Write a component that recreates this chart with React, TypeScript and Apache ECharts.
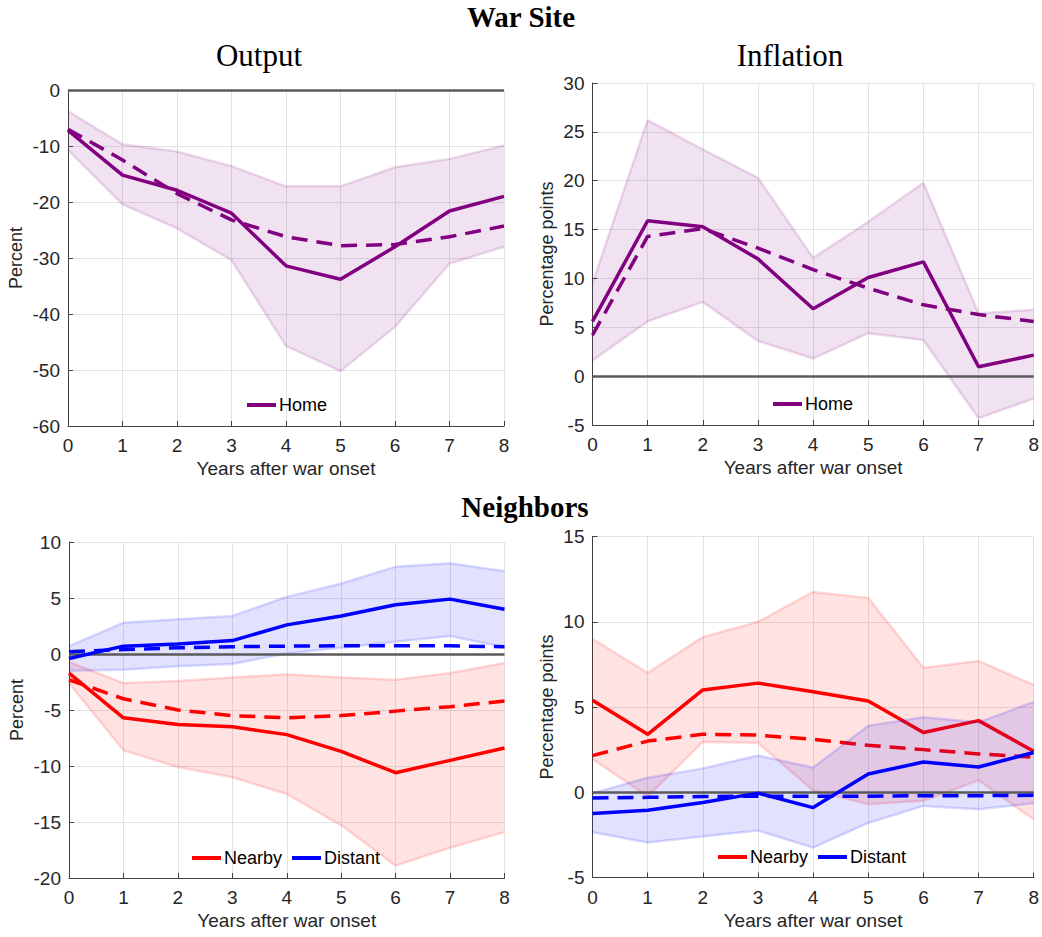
import React, { useEffect, useRef } from "react";
import * as echarts from "echarts";

// x categories
const years = ["0", "1", "2", "3", "4", "5", "6", "7", "8"];

// War site – Output (percent)
const outHomeSolid = [-7.2, -15.2, -17.9, -22.0, -31.4, -33.8, -28.0, -21.6, -19.0];
const outHomeDashed = [-7.0, -12.5, -18.5, -23.2, -26.2, -27.8, -27.6, -26.2, -24.3];
const outHomeUpper = [-3.8, -9.7, -11.0, -13.6, -17.2, -17.2, -13.8, -12.3, -9.9];
const outHomeLower = [-10.7, -20.4, -24.7, -30.4, -45.7, -50.2, -42.3, -31.0, -28.0];

// War site – Inflation (pp)
const infHomeSolid = [5.6, 15.9, 15.3, 12.0, 6.9, 10.1, 11.7, 0.96, 2.15];
const infHomeDashed = [4.2, 14.3, 15.1, 13.1, 10.9, 9.0, 7.3, 6.3, 5.6];
const infHomeUpper = [9.5, 26.2, 23.2, 20.3, 12.1, 15.8, 19.8, 6.4, 6.8];
const infHomeLower = [1.6, 5.6, 7.6, 3.6, 1.8, 4.4, 3.7, -4.3, -2.3];

// Neighbors – Output
const outNearSolid = [-1.7, -5.7, -6.3, -6.5, -7.2, -8.7, -10.6, -9.5, -8.4];
const outNearDashed = [-2.3, -4.0, -5.0, -5.5, -5.7, -5.5, -5.1, -4.7, -4.2];
const outNearUpper = [-0.7, -2.6, -2.4, -2.1, -1.8, -2.1, -2.3, -1.7, -0.8];
const outNearLower = [-2.6, -8.6, -10.1, -11.0, -12.5, -15.3, -18.9, -17.3, -15.9];
const outDistSolid = [-0.4, 0.7, 0.9, 1.2, 2.6, 3.4, 4.4, 4.9, 4.0];
const outDistDashed = [0.2, 0.4, 0.55, 0.65, 0.7, 0.73, 0.73, 0.73, 0.65];
const outDistUpper = [0.7, 2.8, 3.1, 3.4, 5.1, 6.3, 7.8, 8.1, 7.4];
const outDistLower = [-1.5, -1.4, -1.1, -0.9, 0.05, 0.55, 1.1, 1.6, 0.6];

// Neighbors – Inflation
const infNearSolid = [5.4, 3.4, 6.0, 6.4, 5.9, 5.35, 3.5, 4.2, 2.4];
const infNearDashed = [2.15, 3.0, 3.4, 3.35, 3.1, 2.75, 2.5, 2.25, 2.05];
const infNearUpper = [9.0, 7.0, 9.1, 10.0, 11.75, 11.4, 7.3, 7.7, 6.3];
const infNearLower = [1.95, -0.25, 2.95, 2.9, 0.1, -0.7, -0.5, 0.7, -1.6];
const infDistSolid = [-1.25, -1.05, -0.6, -0.05, -0.9, 1.07, 1.77, 1.48, 2.33];
const infDistDashed = [-0.33, -0.3, -0.25, -0.23, -0.23, -0.23, -0.2, -0.2, -0.18];
const infDistUpper = [-0.05, 0.85, 1.4, 2.15, 1.45, 3.9, 4.4, 4.1, 5.3];
const infDistLower = [-2.35, -2.95, -2.6, -2.25, -3.25, -1.8, -0.8, -1.0, -0.65];

// axis ranges
const yRanges = [
  { min: -60, max: 0, interval: 10 },
  { min: -5, max: 30, interval: 5 },
  { min: -20, max: 10, interval: 5 },
  { min: -5, max: 15, interval: 5 },
];
const yNames = ["Percent", "Percentage points", "Percent", "Percentage points"];

const PURPLE = "#800080";
const RED = "#FF0000";
const BLUE = "#0000FF";
const SANS = "Liberation Sans, Arial, Helvetica, sans-serif";
const SERIF = "Liberation Serif, Times New Roman, serif";

function rgba(hex: string, a: number) {
  const r = parseInt(hex.slice(1, 3), 16);
  const g = parseInt(hex.slice(3, 5), 16);
  const b = parseInt(hex.slice(5, 7), 16);
  return `rgba(${r},${g},${b},${a})`;
}

function band(gi: number, key: string, lower: number[], upper: number[], color: string, z: number) {
  const edge = { color: rgba(color, 0.14), width: 2.5 };
  return [
    {
      type: "line",
      xAxisIndex: gi,
      yAxisIndex: gi,
      data: lower,
      stack: key,
      stackStrategy: "all",
      symbol: "none",
      lineStyle: edge,
      z,
      silent: true,
    },
    {
      type: "line",
      xAxisIndex: gi,
      yAxisIndex: gi,
      data: upper.map((u, i) => u - lower[i]),
      stack: key,
      stackStrategy: "all",
      symbol: "none",
      lineStyle: edge,
      areaStyle: { color: rgba(color, 0.115), opacity: 1 },
      z,
      silent: true,
    },
  ];
}

function line(gi: number, name: string, data: number[], color: string, dashed: boolean, z: number) {
  return {
    type: "line",
    name,
    xAxisIndex: gi,
    yAxisIndex: gi,
    data,
    symbol: "none",
    lineStyle: { color, width: 3.5, type: dashed ? [16, 9] : "solid", cap: "butt" },
    itemStyle: { color },
    z,
    silent: true,
  };
}

function zero(gi: number, z: number) {
  return {
    type: "line",
    xAxisIndex: gi,
    yAxisIndex: gi,
    data: [],
    z,
    silent: true,
    markLine: {
      silent: true,
      symbol: "none",
      label: { show: false },
      lineStyle: { color: "#5a5a5a", width: 2.5, type: "solid" },
      data: [{ yAxis: 0 }],
      z,
    },
  };
}

const grids = [
  { left: 68, top: 90, width: 436, height: 336 },
  { left: 592.5, top: 83, width: 443, height: 342 },
  { left: 69, top: 542, width: 435.5, height: 336 },
  { left: 592.5, top: 536.5, width: 442.5, height: 341 },
];

export default function App() {
  const ref = useRef<HTMLDivElement>(null);
  useEffect(() => {
    document.body.style.margin = "0";
    if (!ref.current) return;
    const chart = echarts.init(ref.current, undefined, { renderer: "svg" });

    const xAxes = grids.map((_, i) => ({
      type: "category",
      gridIndex: i,
      data: years,
      boundaryGap: false,
      name: "Years after war onset",
      nameLocation: "middle",
      nameGap: 33,
      nameTextStyle: { fontSize: 19, color: "#262626", fontFamily: SANS },
      axisLine: { show: true, onZero: false, lineStyle: { color: "#404040", width: 1 } },
      axisTick: { show: true, inside: true, length: 5, alignWithLabel: true, lineStyle: { color: "#404040" } },
      axisLabel: { fontSize: 19, color: "#262626", fontFamily: SANS, margin: 10 },
      splitLine: { show: true, lineStyle: { color: "#e3e3e3", width: 1 } },
    }));

    const yAxes = grids.map((_, i) => ({
      type: "value",
      gridIndex: i,
      min: yRanges[i].min,
      max: yRanges[i].max,
      interval: yRanges[i].interval,
      name: yNames[i],
      nameLocation: "middle",
      nameGap: i % 2 === 0 ? 43 : 37,
      nameTextStyle: { fontSize: 18, color: "#262626", fontFamily: SANS },
      axisLine: { show: true, lineStyle: { color: "#404040", width: 1 } },
      axisTick: { show: true, inside: true, length: 5, lineStyle: { color: "#404040" } },
      axisLabel: { fontSize: 19, color: "#262626", fontFamily: SANS, margin: 8 },
      splitLine: { show: true, lineStyle: { color: "#e3e3e3", width: 1 } },
    }));

    const series: any[] = [
      // panel 1
      ...band(0, "b0", outHomeLower, outHomeUpper, PURPLE, 1),
      zero(0, 2),
      line(0, "Home", outHomeSolid, PURPLE, false, 3),
      line(0, "Home LP", outHomeDashed, PURPLE, true, 3),
      // panel 2
      ...band(1, "b1", infHomeLower, infHomeUpper, PURPLE, 1),
      zero(1, 2),
      line(1, "Home", infHomeSolid, PURPLE, false, 3),
      line(1, "Home LP", infHomeDashed, PURPLE, true, 3),
      // panel 3
      ...band(2, "b2n", outNearLower, outNearUpper, RED, 1),
      line(2, "Nearby", outNearSolid, RED, false, 2),
      line(2, "Nearby LP", outNearDashed, RED, true, 2),
      ...band(2, "b2d", outDistLower, outDistUpper, BLUE, 3),
      zero(2, 4),
      line(2, "Distant", outDistSolid, BLUE, false, 5),
      line(2, "Distant LP", outDistDashed, BLUE, true, 5),
      // panel 4
      ...band(3, "b3n", infNearLower, infNearUpper, RED, 1),
      line(3, "Nearby", infNearSolid, RED, false, 2),
      line(3, "Nearby LP", infNearDashed, RED, true, 2),
      ...band(3, "b3d", infDistLower, infDistUpper, BLUE, 3),
      zero(3, 4),
      line(3, "Distant", infDistSolid, BLUE, false, 5),
      line(3, "Distant LP", infDistDashed, BLUE, true, 5),
    ];

    const legendBase = {
      icon: "rect",
      itemWidth: 29,
      itemHeight: 4,
      itemGap: 10,
      selectedMode: false,
      padding: 0,
      textStyle: { fontSize: 18, color: "#000", fontFamily: SANS, padding: [0, 0, 0, -2] },
    };

    const titleText = (text: string, x: number, y: number, bold: boolean, size: number) => ({
      type: "text",
      x,
      y,
      silent: true,
      style: {
        text,
        align: "center",
        verticalAlign: "middle",
        fontSize: size,
        fontWeight: bold ? "bold" : "normal",
        fontFamily: SERIF,
        fill: "#000",
      },
    });

    chart.setOption({
      animation: false,
      backgroundColor: "#fff",
      grid: grids,
      xAxis: xAxes,
      yAxis: yAxes,
      legend: [
        { ...legendBase, data: ["Home"], left: 247, top: 396 },
        { ...legendBase, data: ["Home"], left: 773, top: 395 },
        { ...legendBase, data: ["Nearby", "Distant"], left: 192, top: 849 },
        { ...legendBase, data: ["Nearby", "Distant"], left: 718, top: 848 },
      ],
      graphic: [
        titleText("War Site", 521, 17, true, 29),
        titleText("Output", 259, 55, false, 31),
        titleText("Inflation", 790, 55, false, 31),
        titleText("Neighbors", 525, 507, true, 29),
      ],
      series,
    });
    return () => chart.dispose();
  }, []);
  return <div ref={ref} style={{ width: 1042, height: 937 }} />;
}
